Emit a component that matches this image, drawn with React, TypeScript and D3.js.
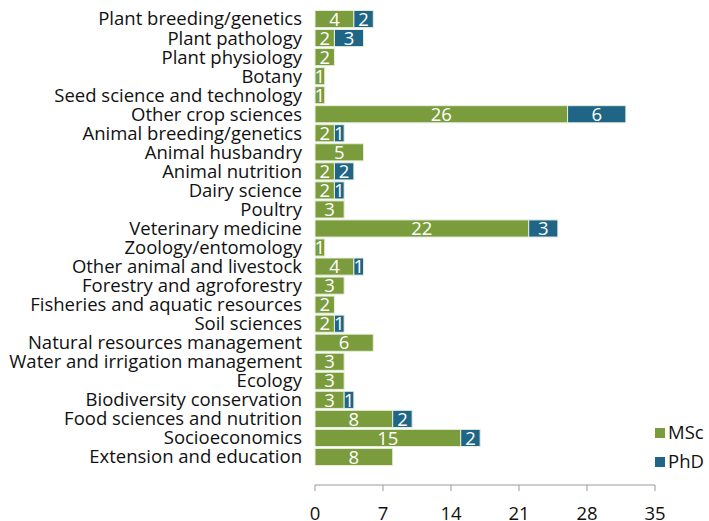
import * as d3 from "d3";
import { useEffect, useRef } from "react";

const categories = [
  "Plant breeding/genetics",
  "Plant pathology",
  "Plant physiology",
  "Botany",
  "Seed science and technology",
  "Other crop sciences",
  "Animal breeding/genetics",
  "Animal husbandry",
  "Animal nutrition",
  "Dairy science",
  "Poultry",
  "Veterinary medicine",
  "Zoology/entomology",
  "Other animal and livestock",
  "Forestry and agroforestry",
  "Fisheries and aquatic resources",
  "Soil sciences",
  "Natural resources management",
  "Water and irrigation management",
  "Ecology",
  "Biodiversity conservation",
  "Food sciences and nutrition",
  "Socioeconomics",
  "Extension and education",
];

const msc = [4, 2, 2, 1, 1, 26, 2, 5, 2, 2, 3, 22, 1, 4, 3, 2, 2, 6, 3, 3, 3, 8, 15, 8];
const phd = [2, 3, 0, 0, 0, 6, 1, 0, 2, 1, 0, 3, 0, 1, 0, 0, 1, 0, 0, 0, 1, 2, 2, 0];

const seriesNames = ["MSc", "PhD"];
const seriesColors = ["#7b9c3c", "#1f6585"];
const xTicks = [0, 7, 14, 21, 28, 35];

const FONT = "'Open Sans', sans-serif";
const FS = 18.5;

const App = () => {
  const ref = useRef<SVGSVGElement | null>(null);

  useEffect(() => {
    if (!ref.current) return;
    const svg = d3.select(ref.current);
    svg.selectAll("*").remove();

    const x = d3.scaleLinear().domain([0, 35]).range([315, 655]);
    const y = d3
      .scaleBand<string>()
      .domain(categories)
      .range([9.5, 466.5])
      .paddingInner(0.1)
      .paddingOuter(0.05);

    const rows = categories.map((c, i) => ({ cat: c, MSc: msc[i], PhD: phd[i] }));
    const stack = d3.stack<any>().keys(seriesNames)(rows);

    // category labels
    svg
      .append("g")
      .selectAll("text")
      .data(categories)
      .join("text")
      .attr("x", 302)
      .attr("y", (d) => y(d)! + y.bandwidth() / 2)
      .attr("dy", "0.35em")
      .attr("text-anchor", "end")
      .attr("font-family", FONT)
      .attr("font-size", FS)
      .attr("fill", "#111")
      .text((d) => d);

    // bars
    const layers = svg
      .append("g")
      .selectAll("g")
      .data(stack)
      .join("g")
      .attr("fill", (_d, i) => seriesColors[i]);

    layers
      .selectAll("rect")
      .data((d) => d.filter((s) => s[1] - s[0] > 0))
      .join("rect")
      .attr("x", (d) => x(d[0]))
      .attr("y", (d) => y(d.data.cat)!)
      .attr("width", (d) => x(d[1]) - x(d[0]))
      .attr("height", y.bandwidth())
      .attr("stroke", "#e8eedd")
      .attr("stroke-width", 1);

    layers
      .selectAll("text")
      .data((d) => d.filter((s) => s[1] - s[0] > 0))
      .join("text")
      .attr("x", (d) => (x(d[0]) + x(d[1])) / 2)
      .attr("y", (d) => y(d.data.cat)! + y.bandwidth() / 2)
      .attr("dy", "0.36em")
      .attr("text-anchor", "middle")
      .attr("font-family", FONT)
      .attr("font-size", FS)
      .attr("fill", "#fff")
      .text((d) => d[1] - d[0]);

    // x axis
    const axisY = 485;
    const ax = svg.append("g").attr("stroke", "#9a9a9a").attr("stroke-width", 1);
    ax.append("line").attr("x1", x(0)).attr("x2", x(35)).attr("y1", axisY).attr("y2", axisY);
    ax.selectAll("line.tick")
      .data(xTicks)
      .join("line")
      .attr("class", "tick")
      .attr("x1", (d) => x(d))
      .attr("x2", (d) => x(d))
      .attr("y1", axisY)
      .attr("y2", axisY + 6);
    svg
      .append("g")
      .selectAll("text")
      .data(xTicks)
      .join("text")
      .attr("x", (d) => x(d))
      .attr("y", 514)
      .attr("dy", "0.35em")
      .attr("text-anchor", "middle")
      .attr("font-family", FONT)
      .attr("font-size", FS)
      .attr("fill", "#111")
      .text((d) => d);

    // legend
    const legend = svg
      .append("g")
      .selectAll("g")
      .data(seriesNames)
      .join("g")
      .attr("transform", (_d, i) => `translate(655, ${428 + i * 29})`);
    legend
      .append("rect")
      .attr("width", 10)
      .attr("height", 10)
      .attr("fill", (_d, i) => seriesColors[i]);
    legend
      .append("text")
      .attr("x", 13)
      .attr("y", 5)
      .attr("dy", "0.35em")
      .attr("font-family", FONT)
      .attr("font-size", FS)
      .attr("fill", "#111")
      .text((d) => d);
  }, []);

  return (
    <svg
      ref={ref}
      width={709}
      height={521}
      style={{ position: "absolute", left: 0, top: 0, background: "#fff" }}
    />
  );
};

export default App;
